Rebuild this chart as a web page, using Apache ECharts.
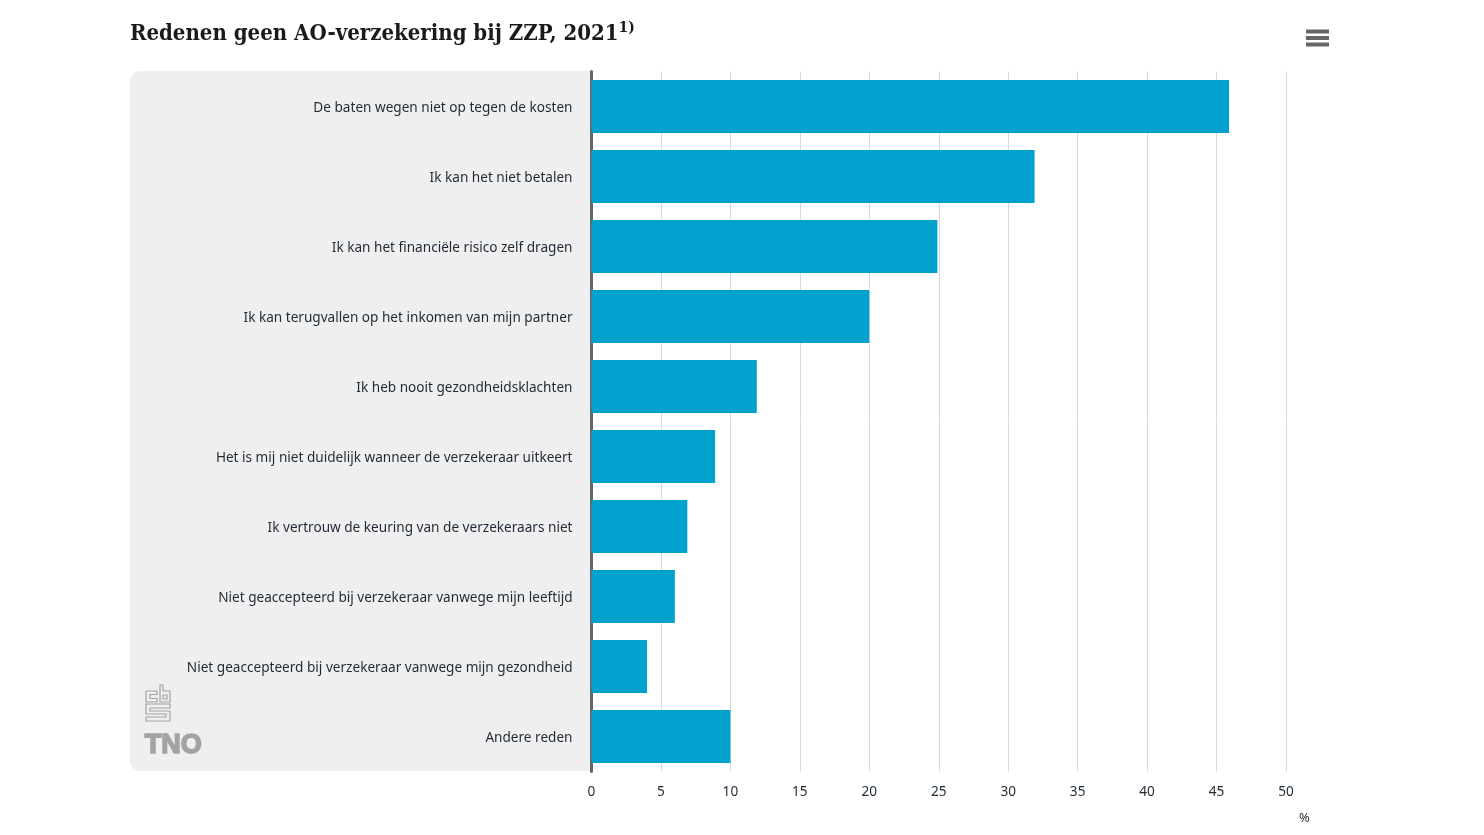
<!DOCTYPE html>
<html>
<head>
<meta charset="utf-8">
<title>Redenen geen AO-verzekering bij ZZP, 2021</title>
<script src="https://cdn.jsdelivr.net/npm/echarts@6/dist/echarts.min.js"></script>
<style>
  html, body { margin: 0; padding: 0; background: #fff; }
  #chart { width: 1484px; height: 835px; }
</style>
</head>
<body>
<div id="chart"></div>
<script>
const categories = [
  "De baten wegen niet op tegen de kosten",
  "Ik kan het niet betalen",
  "Ik kan het financiële risico zelf dragen",
  "Ik kan terugvallen op het inkomen van mijn partner",
  "Ik heb nooit gezondheidsklachten",
  "Het is mij niet duidelijk wanneer de verzekeraar uitkeert",
  "Ik vertrouw de keuring van de verzekeraars niet",
  "Niet geaccepteerd bij verzekeraar vanwege mijn leeftijd",
  "Niet geaccepteerd bij verzekeraar vanwege mijn gezondheid",
  "Andere reden"
];
const values = [45.9, 31.9, 24.9, 20, 11.9, 8.9, 6.9, 6, 4, 10];

const labelFont = "Noto Sans";
const logoGrey = "#a3a3a3";

var myChart = echarts.init(document.getElementById("chart"), null, { renderer: "canvas" });

function bar(x, y, w, h, color) {
  return { type: "rect", shape: { x: x, y: y, width: w, height: h }, style: { fill: color }, silent: true };
}
function logoShape(points) {
  return {
    type: "polygon",
    shape: { points: points },
    style: { fill: "none", stroke: logoGrey, lineWidth: 1.2 },
    silent: true
  };
}

var option = {
  animation: false,
  backgroundColor: "#fff",
  title: {
    text: "Redenen geen AO-verzekering bij ZZP, 2021{sup|1)}",
    left: 130,
    top: 20,
    padding: 0,
    textStyle: {
      fontFamily: "DejaVu Serif Condensed",
      fontSize: 22,
      fontWeight: "bold",
      color: "#1a1a1a",
      rich: {
        sup: { fontFamily: "DejaVu Serif Condensed", fontSize: 15.5, fontWeight: "bold", color: "#1a1a1a", verticalAlign: "top", padding: [0, 0, 12, 0] }
      }
    }
  },
  grid: { left: 591.5, right: 198, top: 71.5, bottom: 63.5 },
  xAxis: {
    type: "value",
    min: 0,
    max: 50,
    interval: 5,
    name: "%",
    nameLocation: "end",
    nameGap: 13,
    nameTextStyle: { fontFamily: labelFont, fontSize: 13, color: "#333", verticalAlign: "top", padding: [40, 0, 0, 0] },
    axisLine: { show: false },
    axisTick: { show: false },
    axisLabel: { margin: 14, fontFamily: labelFont, fontSize: 13.6, color: "#1f2a36" },
    splitLine: { show: true, lineStyle: { color: "#d9d9d9", width: 1 } }
  },
  yAxis: {
    type: "category",
    data: categories,
    inverse: true,
    axisLine: { show: true, lineStyle: { color: "#666", width: 3 } },
    axisTick: { show: false },
    axisLabel: {
      margin: 19,
      formatter: "{cat|{value}}",
      rich: {
        cat: { fontFamily: labelFont, fontSize: 13.6, color: "#1f2a36", padding: [3, 0, 0, 0] }
      }
    }
  },
  series: [
    {
      type: "bar",
      data: values,
      barWidth: 53,
      itemStyle: { color: "#00a1cd" },
      silent: true
    }
  ],
  graphic: [
    // grey panel behind the category labels
    {
      type: "rect",
      z: -1,
      shape: { x: 130, y: 71, width: 461, height: 700, r: [10, 0, 0, 10] },
      style: { fill: "#efefef" },
      silent: true
    },
    // menu icon
    bar(1306, 29.5, 23, 4, "#666"),
    bar(1306, 36, 23, 4, "#666"),
    bar(1306, 42.5, 23, 4, "#666"),
    // cbs logo
    logoShape([[157, 691], [146, 691], [146, 702], [157, 702], [157, 698.5], [150, 698.5], [150, 694.5], [157, 694.5]]),
    logoShape([[160, 685], [163, 685], [163, 691], [170, 691], [170, 702], [160, 702]]),
    logoShape([[163, 695], [167, 695], [167, 699], [163, 699]]),
    logoShape([[170, 704], [146, 704], [146, 714], [166, 714], [166, 717], [146, 717], [146, 721], [170, 721], [170, 711], [150, 711], [150, 708], [170, 708]]),
    // TNO logo
    {
      type: "text",
      left: 144,
      top: 731,
      style: {
        text: "TNO",
        font: "900 27px 'Liberation Sans'",
        fill: logoGrey,
        stroke: logoGrey,
        lineWidth: 1.6
      },
      silent: true
    }
  ]
};

myChart.setOption(option);
</script>
</body>
</html>
